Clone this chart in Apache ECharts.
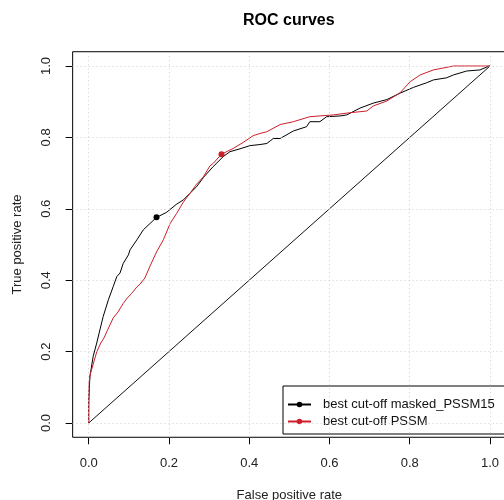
<!DOCTYPE html>
<html><head><meta charset="utf-8">
<script src="https://cdn.jsdelivr.net/npm/echarts@6/dist/echarts.min.js"></script>
<style>html,body{margin:0;padding:0;background:#fff}#c{width:504px;height:500px}</style>
</head><body><div id="c"></div>
<script>
const titleText = 'ROC curves';
const xTitle = 'False positive rate';
const yTitle = 'True positive rate';
const seriesNames = ['best cut-off masked_PSSM15', 'best cut-off PSSM'];
const seriesColors = ['#000000', '#cc1f2a'];

const maskedFpr = [0, 0.000, 0.003, 0.011, 0.020, 0.028, 0.036, 0.049, 0.061, 0.070, 0.078, 0.086, 0.099, 0.103, 0.120, 0.136, 0.153, 0.169, 0.194, 0.219, 0.236, 0.252, 0.269, 0.286, 0.310, 0.335, 0.352, 0.377, 0.402, 0.427, 0.444, 0.460, 0.477, 0.510, 0.543, 0.551, 0.576, 0.593, 0.626, 0.643, 0.676, 0.709, 0.743, 0.776, 0.809, 0.842, 0.859, 0.892, 0.909, 0.942, 0.975, 0.998, 1];
const maskedTpr = [0, 0.060, 0.130, 0.186, 0.224, 0.261, 0.298, 0.345, 0.382, 0.410, 0.420, 0.447, 0.471, 0.485, 0.513, 0.541, 0.559, 0.576, 0.590, 0.613, 0.625, 0.643, 0.662, 0.688, 0.718, 0.746, 0.760, 0.768, 0.777, 0.780, 0.783, 0.797, 0.797, 0.818, 0.830, 0.844, 0.844, 0.858, 0.860, 0.863, 0.882, 0.896, 0.906, 0.924, 0.940, 0.953, 0.961, 0.967, 0.975, 0.986, 0.989, 1.0, 1];

const pssmFpr = [0, 0.000, 0.001, 0.004, 0.012, 0.020, 0.030, 0.038, 0.046, 0.061, 0.073, 0.086, 0.096, 0.107, 0.120, 0.128, 0.140, 0.153, 0.169, 0.186, 0.203, 0.219, 0.236, 0.252, 0.269, 0.286, 0.302, 0.310, 0.331, 0.360, 0.385, 0.410, 0.427, 0.444, 0.477, 0.510, 0.551, 0.610, 0.643, 0.693, 0.709, 0.743, 0.776, 0.801, 0.826, 0.859, 0.909, 1];
const pssmTpr = [0, 0.028, 0.112, 0.137, 0.168, 0.199, 0.224, 0.238, 0.258, 0.294, 0.311, 0.335, 0.350, 0.363, 0.381, 0.389, 0.406, 0.440, 0.479, 0.513, 0.559, 0.587, 0.619, 0.643, 0.669, 0.690, 0.720, 0.727, 0.753, 0.769, 0.786, 0.805, 0.811, 0.816, 0.836, 0.844, 0.858, 0.863, 0.868, 0.874, 0.888, 0.902, 0.925, 0.956, 0.975, 0.989, 1.0, 1];

const maskedCutoff = [0.169, 0.576];
const pssmCutoff = [0.331, 0.753];
const chanceFpr = [0, 1];
const chanceTpr = [0, 1];
const tickValues = [0, 0.2, 0.4, 0.6, 0.8, 1.0];
const tickLabels = ['0.0', '0.2', '0.4', '0.6', '0.8', '1.0'];

const FONT = '"Liberation Sans", Arial, sans-serif';
const zip = (a, b) => a.map((v, i) => [v, b[i]]);

// inner plotting region (0..1) and R-style 4% extended box
const inner = { left: 88.7, top: 66, width: 401.3, height: 357 };
const ext = 0.04;
const box = {
  left: inner.left - ext * inner.width,
  top: inner.top - ext * inner.height,
  width: inner.width * (1 + 2 * ext),
  height: inner.height * (1 + 2 * ext)
};

const chart = echarts.init(document.getElementById('c'), null, { renderer: 'canvas' });
const labelFmt = v => tickLabels[Math.round(v / 0.2)];
const hiddenAxis = (g, mn, mx) => ({ gridIndex: g, type: 'value', min: mn, max: mx, show: false });
const gridBase = { containLabel: false, outerBoundsMode: 'none' };

chart.setOption({
  animation: false,
  backgroundColor: '#ffffff',
  graphic: [{
    type: 'text', left: 288.5 - 45.5, top: 13,
    style: { text: titleText, font: 'bold 16px ' + FONT, fill: '#000' }
  }],
  grid: [
    // x tick axis: 0..1 horizontally, sits on the box bottom
    Object.assign({ show: false, left: inner.left, width: inner.width, top: box.top, height: box.height }, gridBase),
    // y tick axis: 0..1 vertically, sits on the box left
    Object.assign({ show: false, left: box.left, width: box.width, top: inner.top, height: inner.height }, gridBase),
    // plot box
    Object.assign({ show: true, borderColor: '#000', borderWidth: 1, backgroundColor: 'transparent' }, box, gridBase)
  ],
  legend: {
    data: seriesNames, orient: 'vertical', left: 283, top: 386,
    itemWidth: 23, itemHeight: 7, itemGap: 4,
    borderColor: '#000', borderWidth: 1, borderRadius: 0,
    padding: [12, 43, 6, 4], selectedMode: false,
    textStyle: { fontSize: 13, color: '#111', fontFamily: FONT, padding: [0, 0, 0, 7] }
  },
  xAxis: [{
    gridIndex: 0, type: 'value', min: 0, max: 1, interval: 0.2,
    axisLine: { show: false }, axisTick: { show: true, length: 7, lineStyle: { color: '#000' } },
    splitLine: { show: false },
    axisLabel: { formatter: labelFmt, margin: 20, fontSize: 13, color: '#222', fontFamily: FONT },
    name: xTitle, nameLocation: 'middle', nameGap: 52,
    nameTextStyle: { fontSize: 13, color: '#222', fontFamily: FONT }
  }, hiddenAxis(1, 0, 1), hiddenAxis(2, -ext, 1 + ext)],
  yAxis: [hiddenAxis(0, 0, 1), {
    gridIndex: 1, type: 'value', min: 0, max: 1, interval: 0.2,
    axisLine: { show: false }, axisTick: { show: true, length: 7, lineStyle: { color: '#000' } },
    splitLine: { show: false },
    axisLabel: { formatter: labelFmt, margin: 20, rotate: 90, fontSize: 13, color: '#222', fontFamily: FONT },
    name: yTitle, nameLocation: 'middle', nameGap: 49,
    nameTextStyle: { fontSize: 13, color: '#222', fontFamily: FONT }
  }, hiddenAxis(2, -ext, 1 + ext)],
  series: [{
    name: 'chance', type: 'line', xAxisIndex: 2, yAxisIndex: 2,
    data: zip(chanceFpr, chanceTpr), showSymbol: false, silent: true,
    lineStyle: { color: '#111', width: 1 },
    markLine: {
      silent: true, symbol: ['none', 'none'], label: { show: false },
      lineStyle: { color: '#cdcdcd', type: [1, 3], width: 1 },
      data: tickValues.map(v => ({ xAxis: v })).concat(tickValues.map(v => ({ yAxis: v })))
    }
  }, {
    name: seriesNames[0], type: 'line', xAxisIndex: 2, yAxisIndex: 2,
    data: zip(maskedFpr, maskedTpr), showSymbol: false, symbol: 'circle',
    color: seriesColors[0], lineStyle: { color: seriesColors[0], width: 1 },
    markPoint: { symbol: 'circle', symbolSize: 6, label: { show: false }, itemStyle: { color: seriesColors[0] }, data: [{ coord: maskedCutoff }] }
  }, {
    name: seriesNames[1], type: 'line', xAxisIndex: 2, yAxisIndex: 2,
    data: zip(pssmFpr, pssmTpr), showSymbol: false, symbol: 'circle',
    color: seriesColors[1], lineStyle: { color: seriesColors[1], width: 1 },
    markPoint: { symbol: 'circle', symbolSize: 6, label: { show: false }, itemStyle: { color: seriesColors[1] }, data: [{ coord: pssmCutoff }] }
  }]
});
</script></body></html>
